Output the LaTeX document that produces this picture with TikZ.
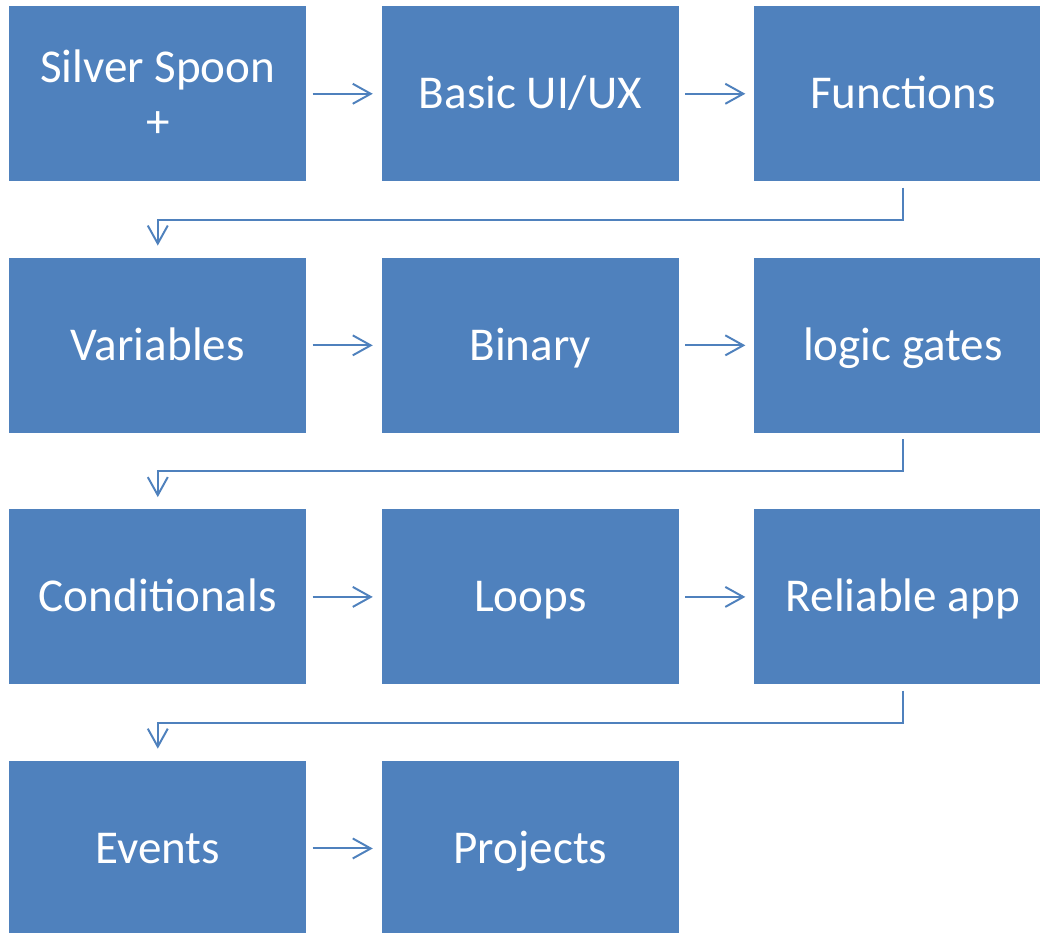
\documentclass[tikz,border=0pt]{standalone}
\usepackage{fontspec}
\setmainfont{Carlito}
\usetikzlibrary{positioning,arrows.meta}
\definecolor{boxblue}{HTML}{4F81BD}
\definecolor{lineblue}{HTML}{4F81BD}

\begin{document}
\begin{tikzpicture}[squares/.style={align=center, text=white, fill=boxblue, minimum width=7.425cm, minimum height=4.375cm, inner sep=0pt, font=\fontsize{33.5}{39}\selectfont},
    oneline/.style={squares, text height=28pt, text depth=7pt},
    link/.style={draw=lineblue, line width=1.4pt, -{Straight Barb[length=0.45cm,width=0.5cm,line width=1.4pt]}}]

    \useasboundingbox (0,0) rectangle (26,-23.325);

    % first row
    \node[squares,anchor=north west] (A) at (0.225,-0.15) {Silver Spoon\\+};
    \node[oneline,right=1.875cm of A] (B) {Basic UI/UX};
    \node[oneline,right=1.875cm of B] (C) {Functions};
    % second row
    \node[oneline,below=1.9cm of A] (D) {Variables};
    \node[oneline,right=1.875cm of D] (E) {Binary};
    \node[oneline,right=1.875cm of E] (F) {logic gates};
    % third row
    \node[oneline,below=1.9cm of D] (G) {Conditionals};
    \node[oneline,right=1.875cm of G] (H) {Loops};
    \node[oneline,right=1.875cm of H] (I) {Reliable app};
    % last row
    \node[oneline,below=1.9cm of G] (J) {Events};
    \node[oneline,right=1.875cm of J] (K) {Projects};

    \draw[link,shorten <=0.15cm,shorten >=0.22cm] (A) -- (B);
    \draw[link,shorten <=0.15cm,shorten >=0.22cm] (B) -- (C);
    \draw[link,shorten <=0.15cm,shorten >=0.22cm] (D) -- (E);
    \draw[link,shorten <=0.15cm,shorten >=0.22cm] (E) -- (F);
    \draw[link,shorten <=0.15cm,shorten >=0.22cm] (G) -- (H);
    \draw[link,shorten <=0.15cm,shorten >=0.22cm] (H) -- (I);
    \draw[link,shorten <=0.15cm,shorten >=0.22cm] (J) -- (K);

    \draw[link,shorten <=0.15cm,shorten >=0.3cm] (C.south) -- ++(0,-0.95) -| (D.north);
    \draw[link,shorten <=0.15cm,shorten >=0.3cm] (F.south) -- ++(0,-0.95) -| (G.north);
    \draw[link,shorten <=0.15cm,shorten >=0.3cm] (I.south) -- ++(0,-0.95) -| (J.north);
\end{tikzpicture}
\end{document}
